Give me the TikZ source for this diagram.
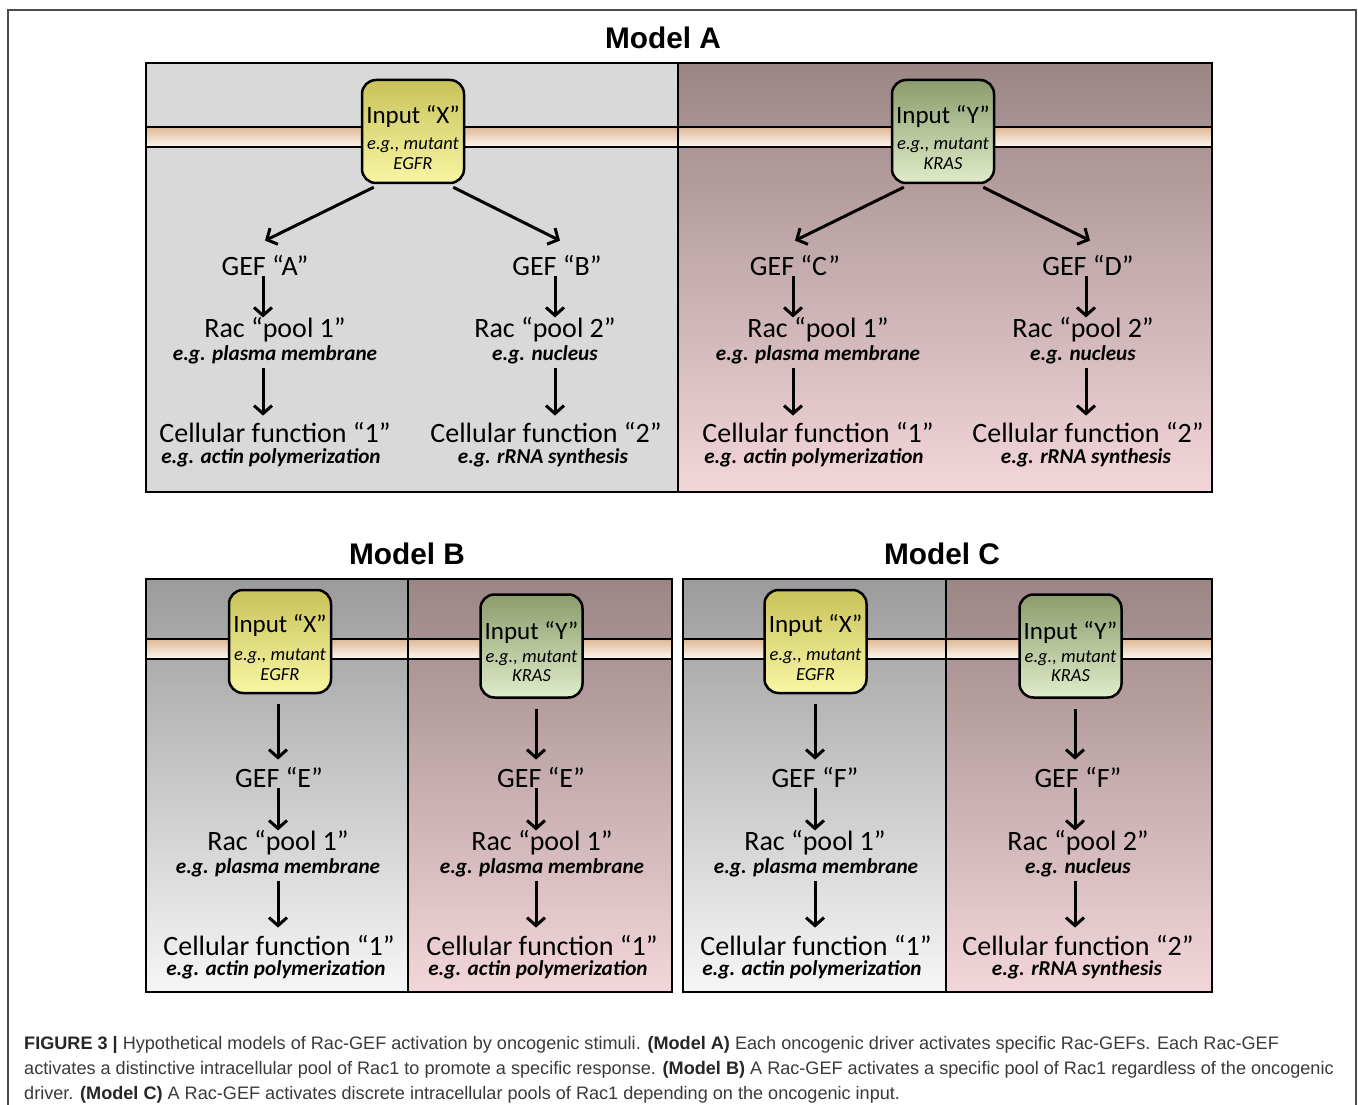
\documentclass[tikz,border=0pt]{standalone}
\usepackage{fontspec}
\setmainfont{Carlito}
\newfontfamily\capfont{Liberation Sans}
\usetikzlibrary{arrows.meta,calc}
\definecolor{grayA}{HTML}{D9D9D9}
\definecolor{mauveT}{HTML}{9B8585}
\definecolor{pinkB}{HTML}{F3D6DA}
\definecolor{grayT}{HTML}{9B9B9B}
\definecolor{grayB}{HTML}{F6F6F6}
\definecolor{bandT}{HTML}{DDB896}
\definecolor{bandB}{HTML}{FFF8F0}
\definecolor{yelT}{HTML}{C9C25A}
\definecolor{yelB}{HTML}{F8F6A4}
\definecolor{grnT}{HTML}{8C9C6C}
\definecolor{grnB}{HTML}{E0ECCA}
\definecolor{captxt}{HTML}{3A3A3A}
\begin{document}
\begin{tikzpicture}[x=1pt,y=1pt,
  border/.style={line width=2.6pt},
  divline/.style={line width=2pt},
  bandline/.style={line width=2.4pt},
  arr/.style={line width=3pt,-{Straight Barb[length=8pt,width=18pt]}},
  main/.style={font=\fontsize{28}{31}\selectfont, inner sep=1pt},
  sub/.style={font=\fontsize{21.2}{24}\selectfont\bfseries\itshape, inner sep=1pt},
  title/.style={font=\capfont\bfseries\fontsize{29.8}{33}\selectfont, inner sep=0pt},
  inbox/.style={draw, line width=2.5pt, rounded corners=14pt, minimum width=102pt, minimum height=103pt, inner sep=0pt},
  xbox/.style={inbox, top color=yelT, bottom color=yelB},
  ybox/.style={inbox, top color=grnT, bottom color=grnB},
  inmain/.style={font=\fontsize{25}{28}\selectfont, inner sep=0pt},
  insub/.style={font=\fontsize{18.5}{20}\selectfont\itshape, inner sep=0pt},
  captext/.style={font=\capfont\fontsize{18.1}{21}\selectfont, text=captxt, anchor=base west, inner sep=0pt}
]
\useasboundingbox (0,0) rectangle (1358,-1105);
\fill[white] (0,0) rectangle (1358,-1105);
% outer frame
\draw[line width=1.3pt, draw=black!70] (8,-1106) -- (8,-10) -- (1356,-10) -- (1356,-1106);

% ================= Model A =================
\node[title] (tA) at (663,-38) {Model A};
\fill[grayA] (146,-63) rectangle (678,-492);
\shade[top color=mauveT, bottom color=pinkB] (678,-63) rectangle (1212,-492);
\shade[top color=bandT, bottom color=bandB] (146,-127) rectangle (1212,-147);
\draw[bandline] (146,-127) -- (1212,-127);
\draw[bandline] (146,-147) -- (1212,-147);
\draw[divline] (678,-63) -- (678,-492);
\draw[border] (146,-63) rectangle (1212,-492);

% Input boxes
\node[xbox] (bAX) at (413,-131.5) {};
\node[inmain] (bAX1) at ($(bAX.center)+(0,15)$) {Input “X”};
\node[insub] (bAX2) at ($(bAX.center)+(0,-14)$) {e.g., mutant};
\node[insub] (bAX3) at ($(bAX.center)+(0,-32)$) {EGFR};
\node[ybox] (bAY) at (943,-131.5) {};
\node[inmain] (bAY1) at ($(bAY.center)+(0,15)$) {Input “Y”};
\node[insub] (bAY2) at ($(bAY.center)+(0,-14)$) {e.g., mutant};
\node[insub] (bAY3) at ($(bAY.center)+(0,-32)$) {KRAS};

% column A
\node[main] (gA) at (265,-265) {GEF “A”};
\node[main] (rA) at (275,-330) {Rac “pool 1”};
\node[sub] (rAe) at (275,-355) {e.g. plasma membrane};
\node[main] (cA) at (275,-433) {Cellular function “1”};
\node[sub] (cAe) at (271,-458) {e.g. actin polymerization};
% column B
\node[main] (gB) at (557,-265) {GEF “B”};
\node[main] (rB) at (545,-330) {Rac “pool 2”};
\node[sub] (rBe) at (545,-355) {e.g. nucleus};
\node[main] (cB) at (546,-433) {Cellular function “2”};
\node[sub] (cBe) at (543,-458) {e.g. rRNA synthesis};
% column C
\node[main] (gC) at (795,-265) {GEF “C”};
\node[main] (rC) at (818,-330) {Rac “pool 1”};
\node[sub] (rCe) at (818,-355) {e.g. plasma membrane};
\node[main] (cC) at (818,-433) {Cellular function “1”};
\node[sub] (cCe) at (814,-458) {e.g. actin polymerization};
% column D
\node[main] (gD) at (1088,-265) {GEF “D”};
\node[main] (rD) at (1083,-330) {Rac “pool 2”};
\node[sub] (rDe) at (1083,-355) {e.g. nucleus};
\node[main] (cD) at (1088,-433) {Cellular function “2”};
\node[sub] (cDe) at (1086,-458) {e.g. rRNA synthesis};

% arrows Model A
\draw[arr] ([xshift=13pt,yshift=-3pt]bAX.south west) -- ([yshift=13pt]gA.north);
\draw[arr] ([xshift=-12pt,yshift=-3pt]bAX.south east) -- ([xshift=3pt,yshift=13pt]gB.north);
\draw[arr] ([xshift=13pt,yshift=-3pt]bAY.south west) -- ([yshift=13pt]gC.north);
\draw[arr] ([xshift=-12pt,yshift=-3pt]bAY.south east) -- ([xshift=2pt,yshift=13pt]gD.north);
\foreach \g/\r/\re/\c in {gA/rA/rAe/cA, gB/rB/rBe/cB, gC/rC/rCe/cC, gD/rD/rDe/cD}{
  \draw[arr, shorten >=-1pt] ([xshift=-2pt]\g.south) -- ([xshift=-2pt]\g.south |- \r.north);
  \draw[arr, shorten <=3pt, shorten >=6pt] ([xshift=-2pt]\g.south |- \re.south) -- ([xshift=-2pt]\g.south |- \c.north);
}

% ================= Model B and C =================
\node[title] (tB) at (407,-554) {Model B};
\node[title] (tC) at (942,-554) {Model C};
\shade[top color=grayT, bottom color=grayB] (146,-579) rectangle (408,-992);
\shade[top color=mauveT, bottom color=pinkB] (408,-579) rectangle (672,-992);
\shade[top color=grayT, bottom color=grayB] (683,-579) rectangle (946,-992);
\shade[top color=mauveT, bottom color=pinkB] (946,-579) rectangle (1212,-992);
\shade[top color=bandT, bottom color=bandB] (146,-639) rectangle (672,-659);
\shade[top color=bandT, bottom color=bandB] (683,-639) rectangle (1212,-659);
\foreach \yy in {-639,-659}{
  \draw[bandline] (146,\yy) -- (672,\yy);
  \draw[bandline] (683,\yy) -- (1212,\yy);
}
\draw[divline] (408,-579) -- (408,-992);
\draw[divline] (946,-579) -- (946,-992);
\draw[border] (146,-579) rectangle (672,-992);
\draw[border] (683,-579) rectangle (1212,-992);

% boxes
\node[xbox] (bBX) at (280,-641.5) {};
\node[inmain] (bBX1) at ($(bBX.center)+(0,16)$) {Input “X”};
\node[insub] (bBX2) at ($(bBX.center)+(0,-15)$) {e.g., mutant};
\node[insub] (bBX3) at ($(bBX.center)+(0,-33)$) {EGFR};
\node[ybox] (bBY) at (531.5,-646) {};
\node[inmain] (bBY1) at ($(bBY.center)+(0,14)$) {Input “Y”};
\node[insub] (bBY2) at ($(bBY.center)+(0,-12)$) {e.g., mutant};
\node[insub] (bBY3) at ($(bBY.center)+(0,-30)$) {KRAS};
\node[xbox] (bCX) at (815.5,-641.5) {};
\node[inmain] (bCX1) at ($(bCX.center)+(0,16)$) {Input “X”};
\node[insub] (bCX2) at ($(bCX.center)+(0,-15)$) {e.g., mutant};
\node[insub] (bCX3) at ($(bCX.center)+(0,-33)$) {EGFR};
\node[ybox] (bCY) at (1070.5,-646) {};
\node[inmain] (bCY1) at ($(bCY.center)+(0,14)$) {Input “Y”};
\node[insub] (bCY2) at ($(bCY.center)+(0,-12)$) {e.g., mutant};
\node[insub] (bCY3) at ($(bCY.center)+(0,-30)$) {KRAS};

% Model B left
\node[main] (gE1) at (279,-777) {GEF “E”};
\node[main] (rE1) at (278,-843) {Rac “pool 1”};
\node[sub] (rE1e) at (278,-868) {e.g. plasma membrane};
\node[main] (cE1) at (279,-945) {Cellular function “1”};
\node[sub] (cE1e) at (276,-970) {e.g. actin polymerization};
% Model B right
\node[main] (gE2) at (541,-777) {GEF “E”};
\node[main] (rE2) at (542,-843) {Rac “pool 1”};
\node[sub] (rE2e) at (542,-868) {e.g. plasma membrane};
\node[main] (cE2) at (542,-945) {Cellular function “1”};
\node[sub] (cE2e) at (538,-970) {e.g. actin polymerization};
% Model C left
\node[main] (gF1) at (815,-777) {GEF “F”};
\node[main] (rF1) at (815,-843) {Rac “pool 1”};
\node[sub] (rF1e) at (816,-868) {e.g. plasma membrane};
\node[main] (cF1) at (816,-945) {Cellular function “1”};
\node[sub] (cF1e) at (812,-970) {e.g. actin polymerization};
% Model C right
\node[main] (gF2) at (1078,-777) {GEF “F”};
\node[main] (rF2) at (1078,-843) {Rac “pool 2”};
\node[sub] (rF2e) at (1078,-868) {e.g. nucleus};
\node[main] (cF2) at (1078,-945) {Cellular function “2”};
\node[sub] (cF2e) at (1077,-970) {e.g. rRNA synthesis};

\foreach \b/\g/\r/\re/\c/\dx in {bBX/gE1/rE1/rE1e/cE1/-1, bBY/gE2/rE2/rE2e/cE2/-5, bCX/gF1/rF1/rF1e/cF1/0, bCY/gF2/rF2/rF2e/cF2/-3}{
  \draw[arr, shorten <=10pt, shorten >=6pt] ([xshift=\dx pt]\g.north |- \b.south) -- ([xshift=\dx pt]\g.north);
  \draw[arr, shorten >=-1pt] ([xshift=\dx pt]\g.south) -- ([xshift=\dx pt]\g.south |- \r.north);
  \draw[arr, shorten <=3pt, shorten >=6pt] ([xshift=\dx pt]\g.south |- \re.south) -- ([xshift=\dx pt]\g.south |- \c.north);
}

% caption
\node[captext] (cap1) at (24,-1049) {\textbf{\color{black!85}FIGURE 3 |} Hypothetical models of Rac-GEF activation by oncogenic stimuli. \textbf{\color{black!85}(Model A)} Each oncogenic driver activates specific Rac-GEFs. Each Rac-GEF};
\node[captext] (cap2) at (24,-1074) {activates a distinctive intracellular pool of Rac1 to promote a specific response. \textbf{\color{black!85}(Model B)} A Rac-GEF activates a specific pool of Rac1 regardless of the oncogenic};
\node[captext] (cap3) at (24,-1099) {driver. \textbf{\color{black!85}(Model C)} A Rac-GEF activates discrete intracellular pools of Rac1 depending on the oncogenic input.};
\end{tikzpicture}
\end{document}
